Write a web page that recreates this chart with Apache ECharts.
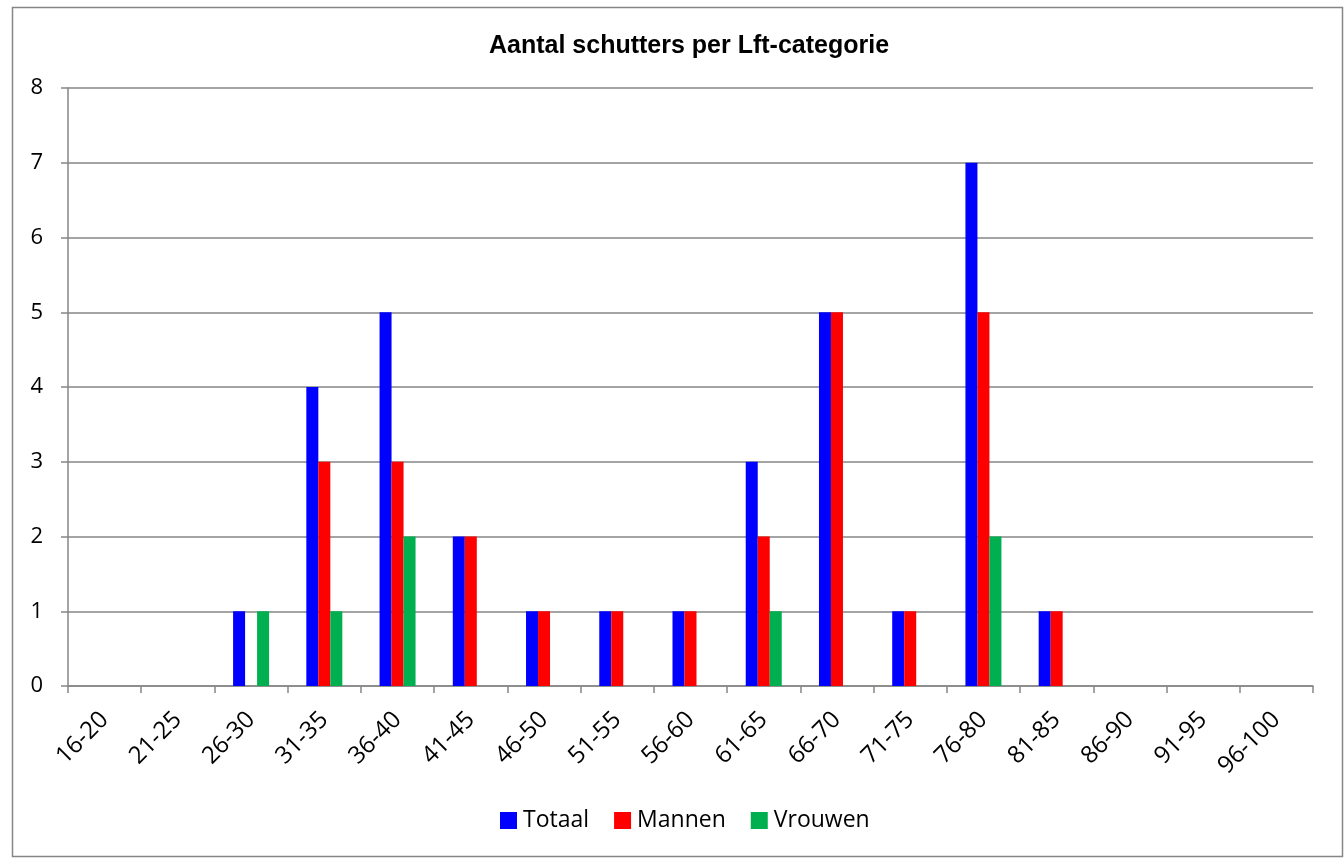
<!DOCTYPE html>
<html>
<head>
<meta charset="utf-8">
<script src="https://cdn.jsdelivr.net/npm/echarts@6/dist/echarts.min.js"></script>
<style>
  html, body { margin: 0; padding: 0; background: #fff; }
  #chart { width: 1344px; height: 858px; }
</style>
</head>
<body>
<div id="chart"></div>
<script>
// categorieën en aantallen
var categories = ['16-20', '21-25', '26-30', '31-35', '36-40', '41-45', '46-50', '51-55', '56-60',
  '61-65', '66-70', '71-75', '76-80', '81-85', '86-90', '91-95', '96-100'];
var totaal  = [0, 0, 1, 4, 5, 2, 1, 1, 1, 3, 5, 1, 7, 1, 0, 0, 0];
var mannen  = [0, 0, 0, 3, 3, 2, 1, 1, 1, 2, 5, 1, 5, 1, 0, 0, 0];
var vrouwen = [0, 0, 1, 1, 2, 0, 0, 0, 0, 1, 0, 0, 2, 0, 0, 0, 0];

var myChart = echarts.init(document.getElementById('chart'));
var fontFam = '"Open Sans", "Liberation Sans", sans-serif';

var option = {
  animation: false,
  color: ['#0000FF', '#FF0000', '#00B050'],
  graphic: [{
    type: 'rect',
    shape: { x: 12.5, y: 7.5, width: 1330, height: 849 },
    style: { fill: 'none', stroke: '#868686', lineWidth: 1.5 },
    silent: true
  }],
  title: {
    text: 'Aantal schutters per Lft-categorie',
    left: 484,
    top: 29,
    textStyle: { fontFamily: '"Liberation Sans", Arial, sans-serif', fontSize: 25, fontWeight: 'bold', color: '#000' }
  },
  legend: {
    data: ['Totaal', 'Mannen', 'Vrouwen'],
    bottom: 21,
    left: 495,
    itemWidth: 17,
    itemHeight: 17,
    itemGap: 25,
    icon: 'rect',
    textStyle: { fontFamily: fontFam, fontSize: 23, color: '#000', padding: [0, 0, 0, 1] }
  },
  grid: { left: 68, right: 31, top: 88, bottom: 172, containLabel: false },
  xAxis: {
    type: 'category',
    data: categories,
    axisLine: { lineStyle: { color: '#868686', width: 1.5 } },
    axisTick: { show: true, length: 7, alignWithLabel: false, lineStyle: { color: '#868686', width: 1.5 } },
    axisLabel: { interval: 0, rotate: 45, margin: 30, fontFamily: fontFam, fontSize: 24, color: '#000' }
  },
  yAxis: {
    type: 'value',
    min: 0,
    max: 8,
    interval: 1,
    axisLine: { show: true, lineStyle: { color: '#868686', width: 1.5 } },
    axisTick: { show: true, length: 7, inside: false, lineStyle: { color: '#868686', width: 1.5 } },
    axisLabel: { margin: 25, fontFamily: fontFam, fontSize: 22, color: '#000' },
    splitLine: { lineStyle: { color: '#868686', width: 1.5 } }
  },
  series: [
    { name: 'Totaal', type: 'bar', data: totaal, barWidth: 12, barGap: '0%' },
    { name: 'Mannen', type: 'bar', data: mannen, barWidth: 12, barGap: '0%' },
    { name: 'Vrouwen', type: 'bar', data: vrouwen, barWidth: 12, barGap: '0%' }
  ]
};

myChart.setOption(option);
</script>
</body>
</html>
